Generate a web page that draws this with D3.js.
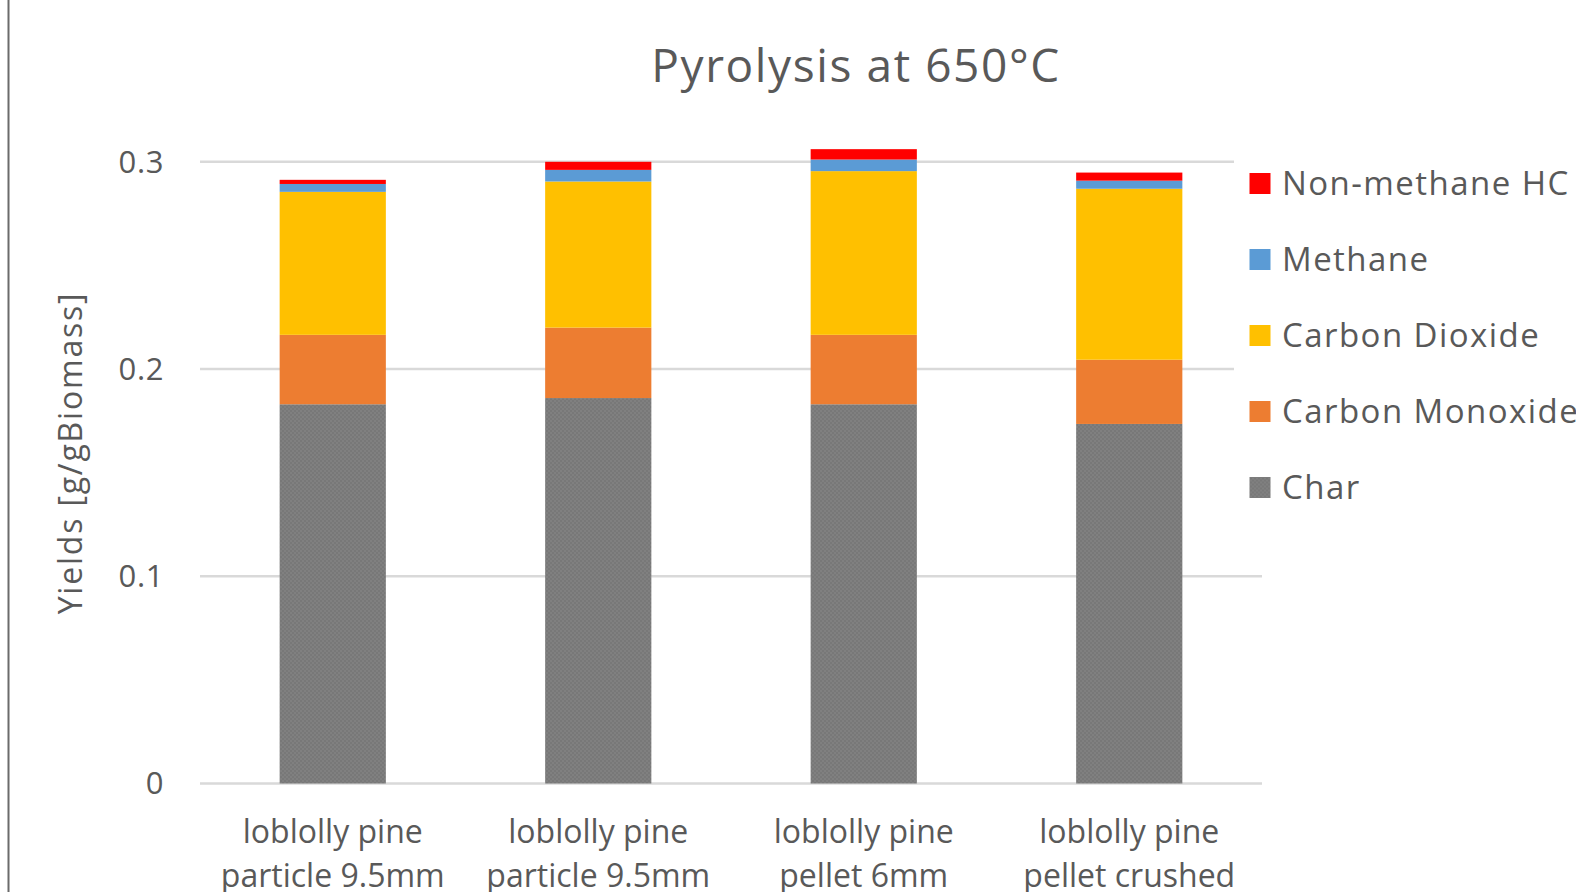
<!DOCTYPE html>
<html>
<head>
<meta charset="utf-8">
<script src="https://cdn.jsdelivr.net/npm/d3@7"></script>
<style>
  html, body { margin: 0; padding: 0; background: #fff; }
  svg { display: block; }
  text { font-family: "Open Sans", "Liberation Sans", sans-serif; fill: #595959; }
</style>
</head>
<body>
<svg id="chart" width="1576" height="892"></svg>
<script>
// Product yields from pyrolysis at 650 °C, g per g biomass
const categories = [
  ["loblolly pine", "particle 9.5mm"],
  ["loblolly pine", "particle 9.5mm"],
  ["loblolly pine", "pellet 6mm"],
  ["loblolly pine", "pellet crushed"]
];
const seriesNames = ["Char", "Carbon Monoxide", "Carbon Dioxide", "Methane", "Non-methane HC"];
const charValues = [0.183, 0.186, 0.183, 0.1735];
const coValues   = [0.0335, 0.034, 0.0335, 0.031];
const co2Values  = [0.069, 0.0705, 0.079, 0.0825];
const ch4Values  = [0.0038, 0.0056, 0.0056, 0.0039];
const nmhcValues = [0.002, 0.0039, 0.005, 0.0039];
const yTicks = [0, 0.1, 0.2, 0.3];
const tickLabels = ["0", "0.1", "0.2", "0.3"];
const colors = ["url(#charFill)", "#ED7D31", "#FFC000", "#5B9BD5", "#FF0000"];

const svg = d3.select("#chart");

// fine textured fill used for the char segments
const defs = svg.append("defs");
const pat = defs.append("pattern").attr("id", "charFill")
  .attr("patternUnits", "userSpaceOnUse").attr("width", 4).attr("height", 4);
pat.append("rect").attr("width", 4).attr("height", 4).attr("fill", "#808080");
pat.append("rect").attr("width", 2).attr("height", 2).attr("fill", "#787878");
pat.append("rect").attr("x", 2).attr("y", 2).attr("width", 2).attr("height", 2).attr("fill", "#787878");

// chart frame (left edge)
svg.append("line").attr("x1", 8.5).attr("x2", 8.5).attr("y1", 0).attr("y2", 892)
  .attr("stroke", "#6b6b6b").attr("stroke-width", 2);

const x = d3.scaleBand().domain(d3.range(categories.length))
  .range([200, 1262]).paddingInner(0.6).paddingOuter(0.3);
const y = d3.scaleLinear().domain([0, 0.3]).range([783.5, 161.8]);

// gridlines
svg.append("g").selectAll("line").data(yTicks).join("line")
  .attr("x1", 200).attr("x2", 1262)
  .attr("y1", d => y(d)).attr("y2", d => y(d))
  .attr("stroke", "#D9D9D9").attr("stroke-width", 2.5);

// y tick labels
svg.append("g").selectAll("text").data(yTicks).join("text")
  .attr("x", 164).attr("y", d => y(d)).attr("dy", "0.35em")
  .attr("text-anchor", "end").attr("font-size", 31)
  .attr("letter-spacing", 0.6)
  .text((d, i) => tickLabels[i]);

// stacked bars
const rows = categories.map((c, i) => ({
  i,
  "Char": charValues[i],
  "Carbon Monoxide": coValues[i],
  "Carbon Dioxide": co2Values[i],
  "Methane": ch4Values[i],
  "Non-methane HC": nmhcValues[i]
}));
const stacked = d3.stack().keys(seriesNames)(rows);
svg.append("g").selectAll("g").data(stacked).join("g")
  .attr("fill", (d, k) => colors[k])
  .selectAll("rect").data(d => d).join("rect")
  .attr("x", d => x(d.data.i))
  .attr("width", x.bandwidth())
  .attr("y", d => y(d[1]))
  .attr("height", d => y(d[0]) - y(d[1]));

// category labels (two lines)
const xl = svg.append("g").selectAll("text").data(categories).join("text")
  .attr("text-anchor", "middle").attr("font-size", 32)
  .attr("x", (d, i) => x(i) + x.bandwidth() / 2);
xl.append("tspan").attr("y", 843).text(d => d[0]);
xl.append("tspan").attr("y", 887).attr("x", (d, i) => x(i) + x.bandwidth() / 2).text(d => d[1]);

// axis title
svg.append("text")
  .attr("transform", "translate(82,453) rotate(-90)")
  .attr("text-anchor", "middle").attr("font-size", 32)
  .attr("letter-spacing", 1.8)
  .text("Yields [g/gBiomass]");

// chart title
svg.append("text").attr("x", 856).attr("y", 82)
  .attr("text-anchor", "middle").attr("font-size", 46)
  .attr("letter-spacing", 1.6)
  .text("Pyrolysis at 650°C");

// legend
const legend = svg.append("g");
legend.append("rect").attr("x", 1234).attr("y", 150).attr("width", 342).attr("height", 370).attr("fill", "#fff");
const legendOrder = seriesNames.map((n, k) => ({ n, k })).reverse();
const ly = d3.scalePoint().domain(legendOrder.map(d => d.n)).range([183.5, 487.5]);
const li = legend.selectAll("g.item").data(legendOrder).join("g").attr("class", "item")
  .attr("transform", d => `translate(0,${ly(d.n)})`);
li.append("rect").attr("x", 1249.5).attr("y", -10.5).attr("width", 21).attr("height", 21)
  .attr("fill", d => colors[d.k]);
li.append("text").attr("x", 1282).attr("dy", "0.36em").attr("font-size", 33)
  .attr("letter-spacing", 1.45)
  .text(d => d.n);
</script>
</body>
</html>
